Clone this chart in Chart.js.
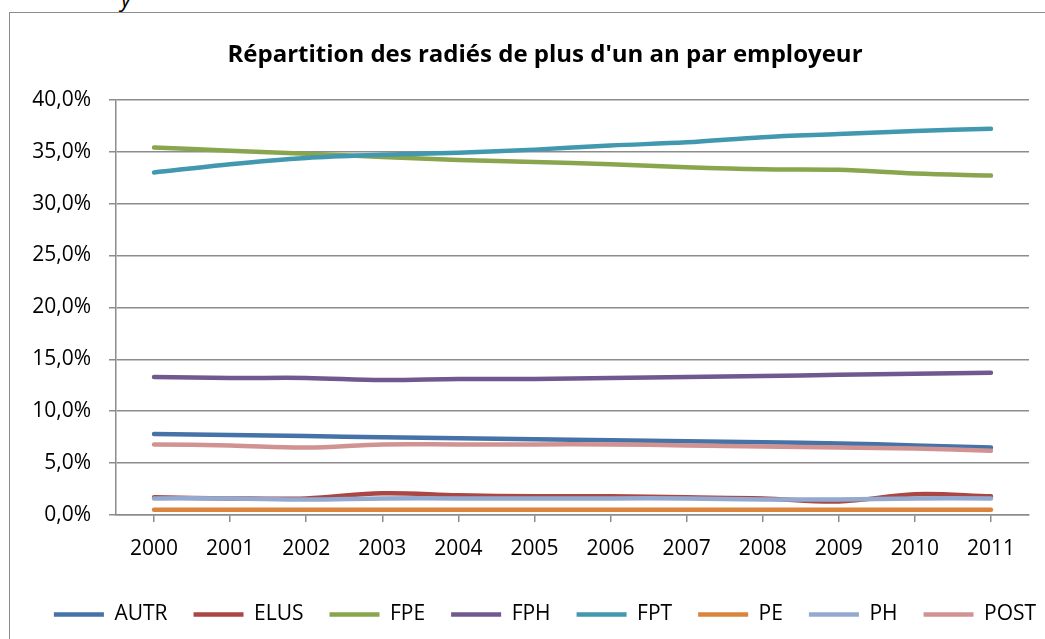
<!DOCTYPE html>
<html lang="fr">
<head>
<meta charset="utf-8">
<title>Répartition des radiés de plus d'un an par employeur</title>
<script src="https://cdn.jsdelivr.net/npm/chart.js@4"></script>
<style>
    html, body {
        margin: 0;
        padding: 0;
        background: #ffffff;
        overflow: hidden;
    }
    #wrap {
        position: relative;
        width: 1045px;
        height: 639px;
        overflow: hidden;
    }
    #frame {
        position: absolute;
        left: 9px;
        top: 12px;
        width: 1100px;
        height: 700px;
        border-left: 1.5px solid #8c8c8c;
        border-top: 1.5px solid #8c8c8c;
        pointer-events: none;
    }
    #caption {
        position: absolute;
        left: 121px;
        top: -17px;
        font: italic 22px "Open Sans", sans-serif;
        color: #000;
    }
    canvas {
        position: absolute;
        left: 0;
        top: 0;
    }
</style>
</head>
<body>
<div id="wrap">
    <div id="caption">y</div>
    <div id="frame"></div>
    <canvas id="employerChart" width="1070" height="639"></canvas>
</div>
<script>
// Years on the x axis
const years = ['2000', '2001', '2002', '2003', '2004', '2005', '2006', '2007', '2008', '2009', '2010', '2011'];

// Share of radiés per employer, in percent
const autr = [7.8, 7.7, 7.6, 7.5, 7.4, 7.3, 7.2, 7.1, 7.0, 6.9, 6.7, 6.5];
const elus = [1.7, 1.6, 1.6, 2.1, 1.9, 1.8, 1.8, 1.7, 1.6, 1.3, 2.0, 1.8];
const fpe = [35.4, 35.1, 34.8, 34.5, 34.2, 34.0, 33.8, 33.5, 33.3, 33.25, 32.9, 32.7];
const fph = [13.3, 13.2, 13.2, 13.0, 13.1, 13.1, 13.2, 13.3, 13.4, 13.5, 13.6, 13.7];
const fpt = [33.0, 33.8, 34.4, 34.7, 34.9, 35.2, 35.6, 35.9, 36.4, 36.7, 37.0, 37.2];
const pe = [0.5, 0.5, 0.5, 0.5, 0.5, 0.5, 0.5, 0.5, 0.5, 0.5, 0.5, 0.5];
const ph = [1.6, 1.6, 1.5, 1.6, 1.6, 1.6, 1.6, 1.6, 1.5, 1.5, 1.6, 1.6];
const post = [6.8, 6.7, 6.5, 6.8, 6.8, 6.8, 6.8, 6.7, 6.6, 6.5, 6.4, 6.2];

// Y axis ticks: 0% to 40% every 5%
const yMin = 0;
const yMax = 40;
const yStep = 5;

const seriesNames = ['AUTR', 'ELUS', 'FPE', 'FPH', 'FPT', 'PE', 'PH', 'POST'];
const seriesValues = [autr, elus, fpe, fph, fpt, pe, ph, post];
const seriesColors = ['#4572A7', '#AA4643', '#89A54E', '#71588F', '#4198AF', '#DB843D', '#93A9CF', '#D19392'];

const gridColor = '#8c8c8c';
const fontFamily = '"Open Sans", "Noto Sans", sans-serif';

document.addEventListener('DOMContentLoaded', function () {
    initializeChart();
});

/**
 * Build the line chart
 */
function initializeChart() {
    const ctx = document.getElementById('employerChart');

    const datasets = seriesNames.map((name, i) => ({
        label: name,
        data: seriesValues[i],
        borderColor: seriesColors[i],
        backgroundColor: seriesColors[i],
        borderWidth: 4.5,
        borderCapStyle: 'round',
        borderJoinStyle: 'round',
        pointRadius: 0,
        pointHoverRadius: 0,
        tension: 0.35,
        fill: false,
        // later series drawn on top, as in the original
        order: seriesNames.length - i
    }));

    new Chart(ctx, {
        type: 'line',
        data: {
            labels: years,
            datasets: datasets
        },
        options: {
            responsive: false,
            animation: false,
            layout: {
                padding: { left: 20, right: 0, top: 0, bottom: 4 }
            },
            plugins: {
                title: {
                    display: true,
                    text: "Répartition des radiés de plus d'un an par employeur",
                    color: '#000000',
                    font: { family: fontFamily, size: 24, weight: 'bold', lineHeight: 1.2 },
                    padding: { top: 41, bottom: 30 }
                },
                legend: {
                    position: 'bottom',
                    labels: {
                        usePointStyle: true,
                        pointStyle: 'line',
                        pointStyleWidth: 50,
                        padding: 26,
                        color: '#000000',
                        font: { family: fontFamily, size: 21 },
                        sort: (a, b) => a.datasetIndex - b.datasetIndex
                    }
                },
                tooltip: { enabled: false }
            },
            scales: {
                x: {
                    offset: true,
                    grid: {
                        display: true,
                        drawOnChartArea: false,
                        drawTicks: true,
                        tickLength: 7,
                        color: gridColor,
                        lineWidth: 1.5
                    },
                    border: { display: true, color: gridColor, width: 1.5 },
                    ticks: {
                        color: '#000000',
                        padding: 14,
                        maxRotation: 0,
                        font: { family: fontFamily, size: 21 }
                    },
                    afterFit: function (scale) {
                        scale.height = 63;
                    }
                },
                y: {
                    min: yMin,
                    max: yMax,
                    grid: {
                        color: gridColor,
                        lineWidth: 1.5,
                        tickLength: 7
                    },
                    border: { display: true, color: gridColor, width: 1.5 },
                    ticks: {
                        stepSize: yStep,
                        color: '#000000',
                        padding: 18,
                        font: { family: fontFamily, size: 21 },
                        callback: function (value) {
                            return value.toFixed(1).replace('.', ',') + '%';
                        }
                    },
                    afterFit: function (scale) {
                        scale.width = 96;
                    }
                },
                // empty right-hand axis: only reserves the space right of the plot
                spacer: {
                    type: 'linear',
                    position: 'right',
                    display: true,
                    grid: { display: false },
                    border: { display: false },
                    ticks: { display: false },
                    afterFit: function (scale) {
                        scale.width = 41;
                    }
                }
            }
        }
    });
}
</script>
</body>
</html>
